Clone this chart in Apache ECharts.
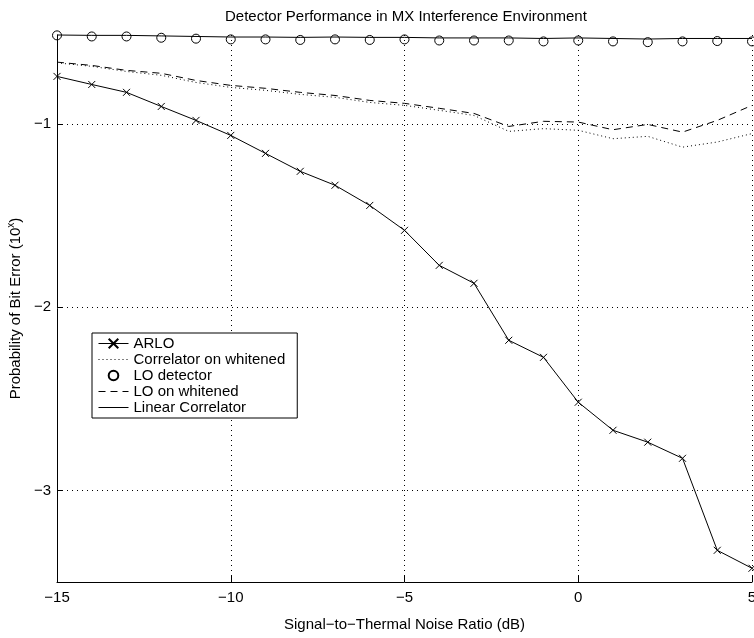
<!DOCTYPE html>
<html>
<head>
<meta charset="utf-8">
<script src="https://cdn.jsdelivr.net/npm/echarts@6/dist/echarts.min.js"></script>
<style>html,body{margin:0;padding:0;background:#fff}#c{width:754px;height:638px}</style>
</head>
<body>
<div id="c"></div>
<script>
const snr = [-15,-14,-13,-12,-11,-10,-9,-8,-7,-6,-5,-4,-3,-2,-1,0,1,2,3,4,5];
const arlo = [-0.741,-0.785,-0.828,-0.905,-0.981,-1.063,-1.161,-1.259,-1.335,-1.445,-1.581,-1.772,-1.870,-2.181,-2.274,-2.519,-2.672,-2.737,-2.825,-3.327,-3.425];
const corrWhitened = [-0.667,-0.686,-0.714,-0.735,-0.774,-0.801,-0.817,-0.839,-0.855,-0.883,-0.899,-0.926,-0.954,-1.041,-1.026,-1.035,-1.081,-1.068,-1.127,-1.099,-1.053];
const loDetector = [-0.517,-0.523,-0.523,-0.530,-0.535,-0.539,-0.539,-0.542,-0.539,-0.542,-0.539,-0.545,-0.545,-0.545,-0.550,-0.545,-0.550,-0.554,-0.550,-0.548,-0.550];
const loWhitened = [-0.663,-0.681,-0.708,-0.724,-0.763,-0.790,-0.806,-0.828,-0.845,-0.872,-0.888,-0.915,-0.943,-1.014,-0.986,-0.990,-1.032,-1.003,-1.045,-0.981,-0.899];
const linearCorr = [-0.515,-0.517,-0.517,-0.520,-0.523,-0.526,-0.526,-0.528,-0.526,-0.528,-0.528,-0.531,-0.531,-0.531,-0.534,-0.531,-0.534,-0.537,-0.534,-0.534,-0.534];
const xTicks = [-15,-10,-5,0,5];
const yTicks = [-3,-2,-1];
const seriesNames = ['ARLO','Correlator on whitened','LO detector','LO on whitened','Linear Correlator'];

const pair = arr => snr.map((x,i)=>[x,arr[i]]);
const fmt = v => String(v).replace('-', '\u2212');
const FONT = 'Liberation Sans, Arial, Helvetica, sans-serif';
const FS = 15;

const chart = echarts.init(document.getElementById('c'), null, {renderer:'canvas'});
chart.setOption({
  animation:false,
  backgroundColor:'#fff',
  title:{
    text:'Detector Performance in MX Interference Environment',
    left:220, top:4,
    textStyle:{fontFamily:FONT,fontSize:FS,fontWeight:'normal',color:'#000'}
  },
  grid:{left:57,right:2,top:35,bottom:56,containLabel:false,outerBoundsMode:'none'},
  legend:{
    orient:'vertical', left:92, top:333,
    itemWidth:30, itemHeight:12, itemGap:1,
    padding:[3,12,3,6],
    backgroundColor:'#fff', borderColor:'#000', borderWidth:1,
    textStyle:{fontFamily:FONT,fontSize:FS,color:'#000',lineHeight:15},
    data:[
      {name:seriesNames[0],lineStyle:{width:1}},
      {name:seriesNames[1],itemStyle:{opacity:0},lineStyle:{width:1,type:[1,3]}},
      {name:seriesNames[2]},
      {name:seriesNames[3],itemStyle:{opacity:0},lineStyle:{width:1,type:[7,5]}},
      {name:seriesNames[4],itemStyle:{opacity:0},lineStyle:{width:1}}
    ]
  },
  xAxis:{
    type:'value', min:-15, max:5, interval:5,
    name:'Signal\u2212to\u2212Thermal Noise Ratio (dB)',
    nameLocation:'middle', nameGap:35,
    nameTextStyle:{fontFamily:FONT,fontSize:FS,color:'#000'},
    axisLine:{show:true,onZero:false,lineStyle:{color:'#000',width:1}},
    axisTick:{show:true,inside:true,length:6,lineStyle:{color:'#000'}},
    axisLabel:{formatter:fmt,fontFamily:FONT,fontSize:FS,color:'#000',margin:8},
    splitLine:{show:true,lineStyle:{color:'#000',type:[1,4],width:1}}
  },
  yAxis:{
    type:'value', min:-3.5, max:-0.515,
    name:'Probability of Bit Error (10{sup|x})',
    nameLocation:'middle', nameGap:28,
    nameTextStyle:{fontFamily:FONT,fontSize:FS,color:'#000',
      rich:{sup:{fontFamily:FONT,fontSize:10,color:'#000',verticalAlign:'bottom',padding:[0,0,8,0]}}},
    axisLine:{show:true,onZero:false,lineStyle:{color:'#000',width:1}},
    axisTick:{show:true,inside:true,length:6,lineStyle:{color:'#000'},customValues:yTicks},
    axisLabel:{formatter:fmt,fontFamily:FONT,fontSize:FS,color:'#000',margin:6,customValues:yTicks},
    splitLine:{show:true,lineStyle:{color:'#000',type:[1,4],width:1},customValues:yTicks}
  },
  series:[
    {name:seriesNames[0],type:'line',data:pair(arlo),
     symbol:'path://M0,0L10,10M10,0L0,10',symbolSize:7,showAllSymbol:true,
     itemStyle:{color:'rgba(0,0,0,0)',borderColor:'#000',borderWidth:1},
     lineStyle:{color:'#000',width:1},z:5},
    {name:seriesNames[1],type:'line',data:pair(corrWhitened),symbol:'none',
     itemStyle:{color:'#000'},
     lineStyle:{color:'#000',width:1,type:[1,3]}},
    {name:seriesNames[2],type:'line',data:pair(loDetector),
     symbol:'circle',symbolSize:9,showAllSymbol:true,clip:false,
     itemStyle:{color:'rgba(0,0,0,0)',borderColor:'#000',borderWidth:1},
     lineStyle:{width:0,opacity:0}},
    {name:seriesNames[3],type:'line',data:pair(loWhitened),symbol:'none',
     itemStyle:{color:'#000'},
     lineStyle:{color:'#000',width:1,type:[7,5]}},
    {name:seriesNames[4],type:'line',data:pair(linearCorr),symbol:'none',clip:false,
     itemStyle:{color:'#000'},
     lineStyle:{color:'#000',width:1}}
  ]
});
</script>
</body>
</html>
